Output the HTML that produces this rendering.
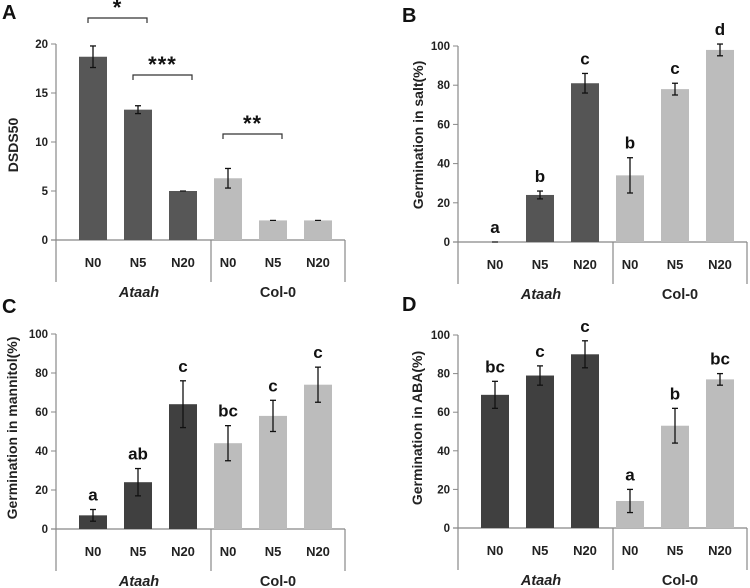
<!DOCTYPE html>
<html><head><meta charset="utf-8"><style>
html,body{margin:0;padding:0;background:#fff;}
svg{display:block;font-family:"Liberation Sans",Arial,sans-serif;}
</style></head><body>
<svg id="fig" width="750" height="588" viewBox="0 0 750 588"></svg>
<script>
const categories = ["N0","N5","N20","N0","N5","N20"];
const groups = ["Ataah","Col-0"];
const valuesA = [18.7,13.3,5.0,6.3,2.0,2.0];
const errorsA = [1.1,0.4,0.05,1.0,0.05,0.05];
const ticksA = [0,5,10,15,20];
const valuesB = [0,24,81,34,78,98];
const errorsB = [0,2,5,9,3,3];
const lettersB = ["a","b","c","b","c","d"];
const valuesC = [7,24,64,44,58,74];
const errorsC = [3,7,12,9,8,9];
const lettersC = ["a","ab","c","bc","c","c"];
const valuesD = [69,79,90,14,53,77];
const errorsD = [7,5,7,6,9,3];
const lettersD = ["bc","c","c","a","b","bc"];
const ticksPct = [0,20,40,60,80,100];

const NS="http://www.w3.org/2000/svg";
const svg=document.getElementById('fig');
function mk(tag,attrs,parent,text){const e=document.createElementNS(NS,tag);for(const k in attrs)e.setAttribute(k,attrs[k]);if(text!==undefined)e.textContent=text;(parent||svg).appendChild(e);return e;}

function panel(o){
  const g=mk('g',{});
  
  
  const yMax=o.ticks[o.ticks.length-1];
  const y=v=>o.y0-(v/yMax)*(o.y0-o.yTop);
  const xc=i=>o.ax+37+i*45;
  const dark=o.dark;
  const pl=mk('text',{x:o.lx,y:o.ly,'font-size':20,'font-weight':'bold',fill:'#111'},g,o.id);
  
  
  const ax=mk('line',{x1:o.ax,y1:o.yTop,x2:o.ax,y2:o.y0+42,stroke:'#888','stroke-width':1.2},g);
  
  
  const xa=mk('line',{x1:o.ax-5,y1:o.y0,x2:o.ax+289,y2:o.y0,stroke:'#888','stroke-width':1.2},g);
  
  
  mk('line',{x1:o.ax+155,y1:o.y0,x2:o.ax+155,y2:o.y0+42,stroke:'#888','stroke-width':1.2},g);
  mk('line',{x1:o.ax+289,y1:o.y0,x2:o.ax+289,y2:o.y0+42,stroke:'#888','stroke-width':1.2},g);
  o.ticks.forEach(t=>{
    mk('line',{x1:o.ax-5,y1:y(t),x2:o.ax,y2:y(t),stroke:'#888','stroke-width':1},g);
    const tl=mk('text',{x:o.ax-8,y:y(t)+4,'font-size':11.5,'font-weight':'bold','text-anchor':'end',fill:'#222'},g,String(t));
    
    
  });
  const yt=mk('text',{x:0,y:0,'font-size':o.tsize||14,'font-weight':'bold','text-anchor':'middle',fill:'#222',transform:`translate(${o.tx},${o.ty}) rotate(-90)`},g,o.title);
  
  
  o.values.forEach((v,i)=>{
    const c=xc(i);
    const b=mk('rect',{x:c-14,y:y(v),width:28,height:o.y0-y(v),fill:i<3?dark:'#bcbcbc'},g);
    
    
    const e=o.errors[i];
    if(e>0.06){
      const eg=mk('g',{stroke:'#111','stroke-width':1.3},g);
      
      
      mk('line',{x1:c,y1:y(v+e),x2:c,y2:y(v-e)},eg);
      mk('line',{x1:c-3,y1:y(v+e),x2:c+3,y2:y(v+e)},eg);
      mk('line',{x1:c-3,y1:y(v-e),x2:c+3,y2:y(v-e)},eg);
    } else {
      mk('line',{x1:c-3,y1:y(v),x2:c+3,y2:y(v),stroke:'#111','stroke-width':1.2},g);
    }
    if(o.letters){
      const lt=mk('text',{x:c,y:y(v+o.errors[i])-9,'font-size':17,'font-weight':'bold','text-anchor':'middle',fill:'#111'},g,o.letters[i]);
      
      
    }
    const cl=mk('text',{x:c,y:o.y0+27,'font-size':13,'font-weight':'bold','text-anchor':'middle',fill:'#222'},g,categories[i]);
    
    
  });
  groups.forEach((gn,k)=>{
    const gl=mk('text',{x:k==0?o.ax+83:o.ax+222,y:o.y0+57,'font-size':14.5,'font-weight':'bold','font-style':k==0?'italic':'normal','text-anchor':'middle',fill:'#222'},g,gn);
    
    
  });
  return {g,xc,y};
}

const A=panel({id:'A',ax:56,y0:240,yTop:44,ticks:ticksA,values:valuesA,errors:errorsA,dark:'#575757',lx:2,ly:19,title:'DSDS50',tx:18,ty:145,tsize:14});
const B=panel({id:'B',ax:458,y0:242,yTop:46,ticks:ticksPct,values:valuesB,errors:errorsB,letters:lettersB,dark:'#555555',lx:402,ly:22,title:'Germination in salt(%)',tx:423,ty:135});
const C=panel({id:'C',ax:56,y0:529,yTop:334,ticks:ticksPct,values:valuesC,errors:errorsC,letters:lettersC,dark:'#404040',lx:2,ly:313,title:'Germination in mannitol(%)',tx:17,ty:428});
const D=panel({id:'D',ax:458,y0:528,yTop:335,ticks:ticksPct,values:valuesD,errors:errorsD,letters:lettersD,dark:'#404040',lx:402,ly:311,title:'Germination in ABA(%)',tx:422,ty:428});

function bracket(i,j,yy,label){
  const g=mk('g',{},A.g);
  
  
  const x1=A.xc(i)-5,x2=A.xc(j)+9;
  mk('polyline',{points:`${x1},${yy+5} ${x1},${yy} ${x2},${yy} ${x2},${yy+5}`,fill:'none',stroke:'#333','stroke-width':1.2},g);
  mk('text',{x:(x1+x2)/2,y:yy-3,'font-size':22,'font-weight':'bold','text-anchor':'middle',fill:'#111','letter-spacing':'1'},g,label);
}
bracket(0,1,18,'*');
bracket(1,2,75,'***');
bracket(3,4,134,'**');
</script>
</body></html>
